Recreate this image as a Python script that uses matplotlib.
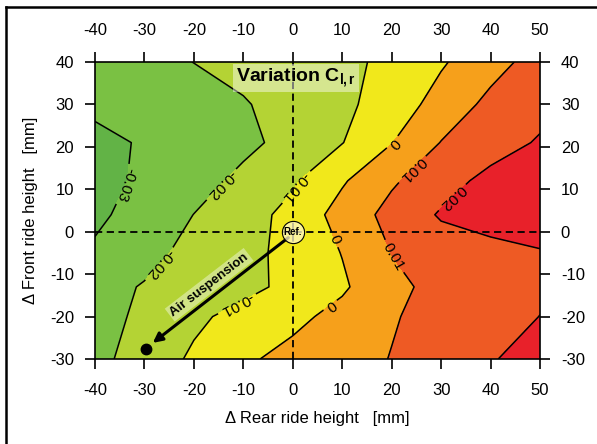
import numpy as np
import matplotlib
matplotlib.use("Agg")
import matplotlib.pyplot as plt
from matplotlib.lines import Line2D

plt.rcParams["font.family"] = ["Liberation Sans", "DejaVu Sans"]
plt.rcParams["mathtext.fontset"] = "custom"
plt.rcParams["mathtext.rm"] = "Liberation Sans"
plt.rcParams["mathtext.bf"] = "Liberation Sans:bold"
plt.rcParams["mathtext.it"] = "Liberation Sans:italic"
plt.rcParams["axes.unicode_minus"] = False

# grid of the measured field (rear ride height x, front ride height y)
rear = [-40, -30, -20, -10, 0, 10, 20, 30, 40, 50]
front = [-30, -20, -13, -5, 4, 12, 21, 30, 40]

# variation of C_l,r, one row per front ride height (bottom to top)
row_m30 = [-0.0228, -0.0156, -0.0085, -0.0015, 0.0029, 0.0066, 0.0103, 0.0148, 0.0193, 0.0238]
row_m20 = [-0.0239, -0.0179, -0.0119, -0.0069, -0.0024, 0.0030, 0.0093, 0.0131, 0.0165, 0.0201]
row_m13 = [-0.0231, -0.0194, -0.0160, -0.0127, -0.0075, -0.0014, 0.0075, 0.0130, 0.0165, 0.0185]
row_m5 = [-0.0285, -0.0228, -0.0173, -0.0130, -0.0070, 0.0003, 0.0102, 0.0150, 0.0182, 0.0196]
row_4 = [-0.0320, -0.0259, -0.0199, -0.0140, -0.0071, 0.0039, 0.0131, 0.0210, 0.0225, 0.0232]
row_12 = [-0.0332, -0.0283, -0.0234, -0.0179, -0.0113, -0.0011, 0.0087, 0.0160, 0.0229, 0.0255]
row_21 = [-0.0325, -0.0291, -0.0256, -0.0221, -0.0172, -0.0103, -0.0003, 0.0103, 0.0156, 0.0210]
row_30 = [-0.0280, -0.0260, -0.0238, -0.0207, -0.0165, -0.0122, -0.0054, 0.0038, 0.0125, 0.0168]
row_40 = [-0.0254, -0.0227, -0.0199, -0.0173, -0.0147, -0.0120, -0.0081, -0.0011, 0.0064, 0.0139]

levels = [-0.03, -0.02, -0.01, 0.0, 0.01, 0.02]
fill_colors = ["#62b346", "#7ac143", "#b4d334", "#f1e81b", "#f6a01b", "#ee5a24", "#e8212a"]

ref_point = (0, 0)
arrow_start = (-0.9, -1.4)
arrow_end = (-28.3, -26.2)
air_point = (-29.6, -27.6)

xticks = [-40, -30, -20, -10, 0, 10, 20, 30, 40, 50]
yticks = [-30, -20, -10, 0, 10, 20, 30, 40]

# where the contour labels sit, and which way each one reads
label_spots = [(-33.7, 11), (-14.1, 10.8), (-27.2, -7.3), (1.7, 9.9), (-11.4, -16.7),
               (20.3, 21), (8.4, -1.9), (7.8, -17.7), (24.6, 14.2), (20.3, -5.9), (32.1, 8.3)]
label_dirs = [-90, 218, 229, 235, 203, 226, -59, 217, 223, -63, 220]

Z = np.array([row_m30, row_m20, row_m13, row_m5, row_4, row_12, row_21, row_30, row_40])
X, Y = np.meshgrid(rear, front)

fig = plt.figure(figsize=(5.97, 4.44), dpi=100)
ax = fig.add_axes([0.159, 0.1914, 0.7455, 0.669])

ax.contourf(X, Y, Z, levels=[-1] + levels + [1], colors=fill_colors, zorder=1)
cs = ax.contour(X, Y, Z, levels=levels, colors="k", linewidths=1.1,
                linestyles="solid", zorder=2)
ax.clabel(cs, fmt=lambda v: f"{v:g}", fontsize=11, manual=label_spots,
          inline_spacing=4, rightside_up=False)
# keep the local line angle but turn each label the way it reads in the original
for t, want in zip(cs.labelTexts, label_dirs):
    r = t.get_rotation()
    if abs(((r - want + 180) % 360) - 180) > 90:
        t.set_rotation(r + 180)

ax.axhline(0, color="k", ls=(0, (4, 2.5)), lw=1.3, zorder=3)
ax.axvline(0, color="k", ls=(0, (4, 2.5)), lw=1.3, zorder=3)

ax.annotate("", xy=arrow_end, xytext=arrow_start,
            arrowprops=dict(arrowstyle="-|>", lw=2.2, color="k", mutation_scale=14,
                            shrinkA=0, shrinkB=0), zorder=4)
ax.plot(*air_point, "o", ms=7.5, color="k", zorder=5)
ax.plot(*ref_point, "o", ms=16, mfc=(1.0, 0.97, 0.78, 0.75), mec="k", mew=0.8, zorder=5)
ax.text(*ref_point, "Ref.", fontsize=7, fontweight="bold", ha="center", va="center", zorder=6)

ax.text(-16.9, -12.5, "Air suspension", rotation=37.6, rotation_mode="anchor",
        ha="center", va="center", fontsize=9.5, fontweight="bold", zorder=6,
        bbox=dict(facecolor="white", alpha=0.4, edgecolor="none", pad=1.5))
ax.text(0.7, 36.3, r"Variation C$_{\mathbf{l,r}}$", fontsize=14, fontweight="bold",
        ha="center", va="center", zorder=6,
        bbox=dict(facecolor="white", alpha=0.45, edgecolor="none", pad=2))

ax.set_xlim(-40, 50)
ax.set_ylim(-30, 40)
ax.set_xticks(xticks)
ax.set_yticks(yticks)
ax.tick_params(top=True, right=True, labeltop=True, labelright=True,
               direction="out", length=7, width=1.2, labelsize=12)
ax.tick_params(axis="x", pad=10)
ax.tick_params(axis="y", pad=8)
for s in ax.spines.values():
    s.set_linewidth(1.2)

fig.text(317.5 / 597, 1 - 418 / 444, "\u0394 Rear ride height   [mm]",
         fontsize=12, ha="center", va="center")
fig.text(31 / 597, 1 - 210 / 444, "\u0394 Front ride height   [mm]",
         fontsize=12, ha="center", va="center", rotation=90)

# outer frame (only left and top edges are visible in the picture)
fig.add_artist(Line2D([5.5 / 597, 5.5 / 597], [0, 1 - 7 / 444], color="k", lw=1.8))
fig.add_artist(Line2D([5.5 / 597, 1], [1 - 7 / 444, 1 - 7 / 444], color="k", lw=1.8))

fig.savefig("out.png", dpi=100)
